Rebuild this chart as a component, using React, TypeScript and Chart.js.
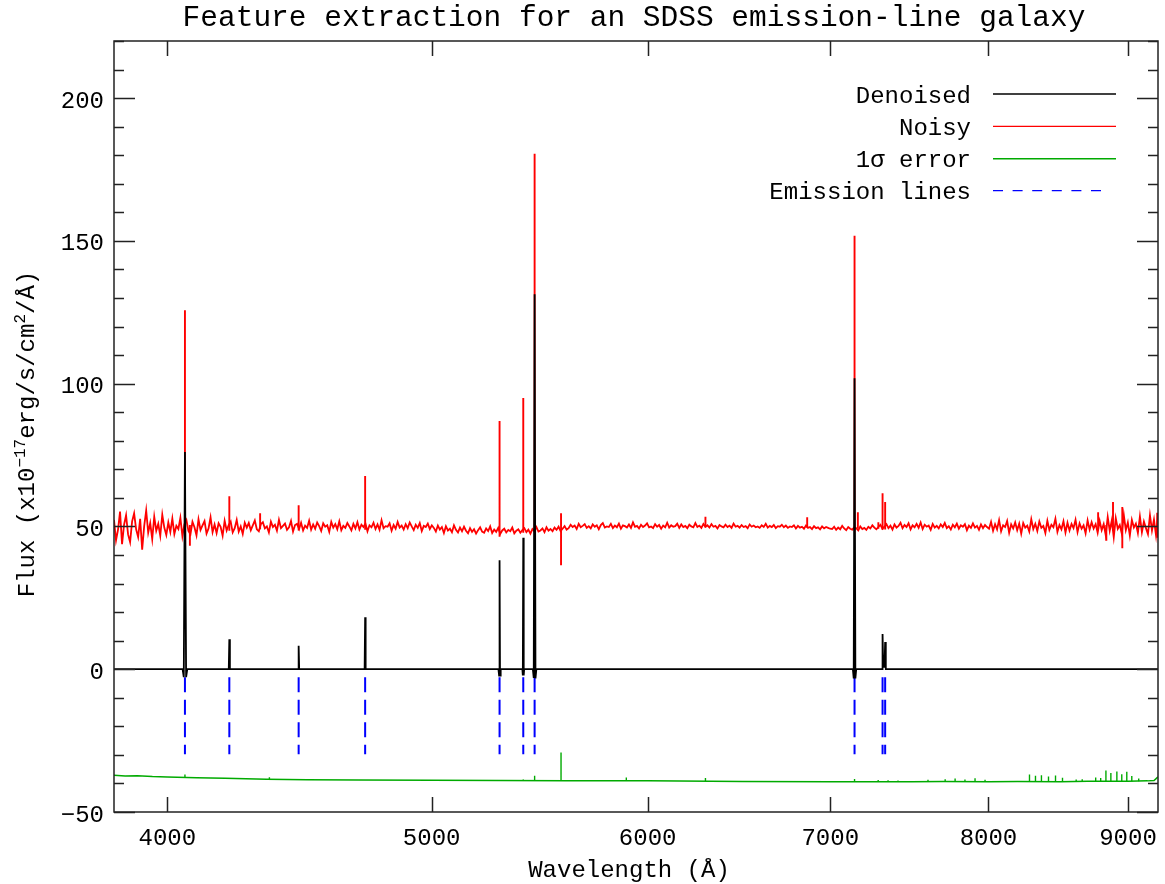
import React, { useEffect, useRef } from 'react';
import { Chart, registerables } from 'chart.js';

Chart.register(...registerables);

// SDSS-style log-linear wavelength grid of the noisy spectrum
const LOGLAM0 = 3.58252;
const DLOGLAM = 0.00073744;

// Noisy flux (offset +50), one value per grid pixel
const noisyFlux = [
  52.3, 45.1, 48.9, 55.2, 43.8, 50.6, 53.9, 47.2, 44.5, 51.8,
  54.6, 49.0, 46.3, 52.7, 41.9, 50.1, 55.6, 47.8, 51.2, 45.6,
  53.4, 48.5, 50.9, 46.7, 54.1, 49.6, 47.0,
  51.4, 48.1, 52.8, 47.3, 50.2, 49.1, 53.0, 46.6, 50.8, 52.2,
  48.4, 47.2, 51.6, 49.7, 46.9, 52.5, 48.8, 50.4, 51.9, 47.5,
  49.3, 53.2, 48.0, 50.7, 47.7, 51.1, 49.9, 46.8, 52.0, 48.6,
  50.5, 51.7, 47.9, 49.4, 52.3, 48.2, 50.0, 47.4, 51.3,
  49.6, 51.2, 48.7, 50.4, 52.1, 49.0, 48.3, 50.8, 51.5, 49.3,
  50.0, 47.9, 51.7, 49.8, 50.6, 48.5, 52.3, 49.4, 50.2, 51.0,
  48.8, 49.7, 51.9, 48.2, 50.5, 50.9, 49.1, 51.3, 48.6, 50.3,
  49.5, 52.0, 48.9, 50.7, 49.2, 51.4, 50.1, 48.4, 51.1, 49.9,
  50.4, 48.1, 51.6, 49.6, 50.8, 49.0, 51.8, 48.7, 50.2, 49.5,
  51.2, 50.0, 48.6, 50.9, 49.3, 51.5, 48.9, 50.6, 49.8, 51.0,
  48.3, 50.4, 49.7, 51.3, 49.1, 50.7, 48.8, 52.2, 49.4, 50.1,
  49.9, 51.1, 48.5, 50.5, 49.2, 51.6, 49.6, 50.3, 48.9, 50.8,
  49.4, 51.4, 50.0, 48.7, 50.6, 49.5, 51.2, 48.4, 50.2, 49.8,
  51.0, 49.1, 50.4,
  49.5, 48.2, 50.3, 48.9, 49.8, 47.7, 50.1, 48.6, 49.2, 48.0,
  50.4, 48.8, 47.9, 49.6, 48.3, 49.9, 48.5, 47.6, 49.4, 48.1,
  49.0, 47.5, 48.7, 49.7, 48.2, 47.8, 49.3, 48.4, 50.0, 47.7,
  48.9, 48.1, 49.5, 47.4, 48.6, 49.2, 47.9, 48.8, 48.3, 49.6,
  47.6, 48.5, 49.0, 47.8, 48.7, 49.4, 48.0, 48.9, 47.5, 49.1,
  48.4, 49.8, 48.2, 48.6, 49.3, 48.0, 49.7, 48.5, 49.1, 48.3,
  49.6, 48.8, 49.9, 48.4, 49.2, 50.1, 48.9,
  49.4, 50.6, 49.8, 50.3, 49.1, 50.9, 49.7, 50.2, 50.8, 49.5,
  50.1, 49.3, 50.7, 49.9, 50.4, 49.0, 50.5, 51.2, 49.6, 50.0,
  49.8, 50.9, 49.4, 50.3, 49.7, 51.0, 49.2, 50.4, 50.1, 49.6,
  50.7, 49.5, 51.4, 49.9, 50.2, 49.3, 50.6, 49.8, 50.3, 51.1,
  49.7, 50.0, 49.4, 50.8, 49.9, 50.5, 49.2, 50.3, 49.7, 51.3,
  49.6, 50.4, 49.9, 50.1, 51.0, 49.5, 50.7, 49.8, 50.2, 49.4,
  50.6, 50.0, 49.7, 51.2, 49.8, 50.3, 49.5, 50.9, 49.9, 50.4,
  49.6, 50.8, 49.9, 50.2, 49.3, 50.5, 50.0, 49.7, 50.6, 49.8,
  50.3, 49.5, 51.0, 49.9, 50.2, 49.6, 50.5, 49.8, 50.1, 49.4,
  50.7, 49.9, 50.3, 49.7, 50.0, 49.5, 50.4, 49.8, 50.9, 49.6,
  50.2, 49.8, 50.5, 49.4, 50.1, 49.9, 50.6, 49.7, 50.3, 49.5,
  50.0, 49.8, 50.4, 49.3, 50.2, 49.6, 49.9, 49.2, 50.3, 49.5,
  49.8, 49.1, 50.1, 49.4, 49.7, 49.0, 50.0, 49.3, 49.8, 49.5,
  49.2,
  49.1, 49.9, 48.8, 49.6, 49.0, 50.2, 49.3, 48.7, 49.8, 49.2,
  48.9, 49.7, 49.4, 48.6, 50.0, 49.1, 49.5, 48.8, 49.9, 49.3,
  50.4, 49.6, 49.0, 49.8, 50.6, 49.2, 49.9, 50.8, 49.4, 50.3,
  48.9, 50.7, 49.6, 50.2, 51.3, 49.4, 50.5, 49.8, 51.1, 49.0,
  50.4, 49.7, 50.9, 49.5, 51.4, 49.1, 50.6, 49.9, 50.3, 48.8,
  50.9, 49.6, 50.2, 49.3, 50.7, 49.8, 51.2, 49.4, 50.1, 48.9,
  50.6, 49.7, 51.0, 49.2, 50.4, 49.9, 50.8, 48.7, 50.3, 49.5,
  51.1, 49.6, 50.2, 48.8, 50.7, 49.4, 50.5, 49.8,
  49.2, 51.6, 48.5, 50.8, 49.0, 52.2, 48.3, 50.4, 49.8, 51.9,
  47.8, 50.7, 49.3, 51.4, 48.7, 51.0, 47.5, 51.2, 49.6, 50.3,
  48.2, 52.5, 49.1, 50.9, 48.4, 51.7, 49.5, 50.2, 47.7, 52.0,
  48.8, 50.6, 49.7, 52.7, 48.1, 50.5, 49.0, 51.8, 47.9, 51.3,
  48.6, 50.9, 49.4, 52.3, 48.0, 51.1, 49.2, 50.4, 47.6, 52.1,
  48.9, 51.5, 49.3, 50.8, 47.8, 51.9, 48.7,
  50.8, 47.0, 53.3, 48.5, 52.0, 46.2, 52.9, 49.2, 50.5, 47.5,
  54.0, 48.7, 51.4, 46.8, 52.3, 49.6, 51.0, 47.7, 53.5, 48.0,
  51.7, 49.4, 47.3, 53.9, 48.6, 52.4, 46.9, 54.2,
];

// Narrow features of the noisy spectrum (wavelength, low end, high end)
const noisySpikeWave = [4060, 4077, 4215, 4326, 4469, 4727, 5295, 5402, 5454, 5577, 6300, 6865, 7145, 7165, 7290, 7316, 7332, 8776, 8837, 8887, 8957, 9225];
const noisySpikeLo = [48.0, 43.2, 48.5, 49.0, 48.6, 48.8, 46.4, 47.8, 47.9, 36.4, 49.6, 49.5, 48.6, 49.3, 49.2, 48.8, 48.9, 49.0, 45.0, 49.2, 42.4, 46.0];
const noisySpikeHi = [125.7, 50.5, 60.6, 54.6, 57.4, 67.7, 86.9, 95.0, 180.5, 54.6, 53.4, 53.2, 151.8, 55.0, 51.5, 61.6, 58.6, 55.0, 50.5, 58.6, 56.8, 54.8];

// Denoised spectrum (offset 0)
const denoisedWave = [3824, 4052, 4056, 4060, 4064, 4068, 4213, 4215, 4217, 4467, 4469, 4471, 4725, 4727, 4729, 5290, 5293, 5295, 5297, 5300, 5398, 5400, 5402, 5404, 5406, 5446, 5450, 5454, 5458, 5462, 7135, 7140, 7145, 7150, 7155, 7313, 7316, 7320, 7328, 7332, 7336, 9231];
const denoisedFlux = [0, 0, -2.8, 76.1, -2.8, 0, 0, 10.5, 0, 0, 8.2, 0, 0, 18.2, 0, 0, -2.2, 38.2, -2.2, 0, 0, -2.2, 46.0, -2.2, 0, 0, -3.0, 131.3, -3.2, 0, 0, -3.2, 101.9, -3.2, 0, 0, 12.3, 0.8, 0.8, 9.5, 0, 0];

// 1-sigma error (offset -50)
const errorWave = [3824, 3860, 3900, 3950, 4000, 4100, 4200, 4350, 4500, 4700, 5000, 5300, 5600, 6000, 6500, 7000, 7500, 7700, 8000, 8200, 8500, 8700, 9000, 9150, 9200, 9231];
const errorFlux = [-37.1, -37.4, -37.3, -37.6, -37.7, -38.0, -38.2, -38.5, -38.7, -38.8, -38.9, -39.0, -39.1, -39.1, -39.3, -39.4, -39.4, -39.3, -39.4, -39.3, -39.4, -39.2, -39.2, -39.1, -39.0, -37.7];
const errorSpikeWave = [4060, 4360, 5402, 5454, 5577, 5893, 6300, 7145, 7289, 7350, 7412, 7602, 7713, 7778, 7843, 7910, 7977, 8282, 8324, 8366, 8416, 8466, 8516, 8615, 8659, 8758, 8795, 8834, 8871, 8916, 8953, 8991, 9029, 9082];
const errorSpikeLo = [-37.9, -38.5, -39.0, -39.0, -39.1, -39.1, -39.2, -39.4, -39.4, -39.4, -39.4, -39.4, -39.4, -39.4, -39.4, -39.4, -39.4, -39.3, -39.3, -39.3, -39.3, -39.3, -39.4, -39.4, -39.3, -39.2, -39.2, -39.2, -39.2, -39.2, -39.2, -39.2, -39.2, -39.2];
const errorSpikeHi = [-36.9, -37.8, -38.6, -37.3, -29.2, -37.9, -38.1, -38.4, -38.8, -38.9, -39.0, -38.7, -38.5, -38.3, -38.6, -38.2, -38.7, -36.9, -37.3, -37.1, -37.6, -37.2, -38.0, -38.6, -38.5, -37.9, -38.1, -35.5, -36.3, -35.8, -36.8, -35.9, -37.4, -38.3];

// Detected emission lines
const emissionWave = [4060, 4215, 4469, 4727, 5295, 5402, 5454, 7145, 7316, 7332];
const markerTop = -2.8;
const markerBottom = -29.8;

// Axes
const xMin = 3824;
const xMax = 9231;
const yMin = -50;
const yMax = 220;
const xTickValues = [4000, 5000, 6000, 7000, 8000, 9000];
const yMajorTicks = [-50, 0, 50, 100, 150, 200];
const yMinorStep = 10;

const TITLE = 'Feature extraction for an SDSS emission-line galaxy';
const X_TITLE = 'Wavelength (Å)';
const legendItems = [
  { label: 'Denoised', color: '#000000', dash: [] as number[], width: 1.3 },
  { label: 'Noisy', color: '#ff0000', dash: [] as number[], width: 1.3 },
  { label: '1σ error', color: '#00aa00', dash: [] as number[], width: 1.6 },
  { label: 'Emission lines', color: '#0000ff', dash: [10, 9.6], width: 1.3 },
];

const FONT = '"Liberation Mono", "DejaVu Sans Mono", monospace';

function segs(wave: number[], lo: number[], hi: number[]) {
  const out: { x: number; y: number | null }[] = [];
  wave.forEach((w, k) => {
    out.push({ x: w, y: lo[k] });
    out.push({ x: w, y: hi[k] });
    out.push({ x: w, y: null });
  });
  return out;
}

const axesPlugin = {
  id: 'idlAxes',
  beforeDraw(chart: any) {
    const ctx = chart.ctx;
    ctx.save();
    ctx.fillStyle = '#ffffff';
    ctx.fillRect(0, 0, chart.width, chart.height);
    ctx.restore();
  },
  afterDraw(chart: any) {
    const ctx: CanvasRenderingContext2D = chart.ctx;
    const { left, right, top, bottom } = chart.chartArea;
    const xs = chart.scales.x;
    const ys = chart.scales.y;
    ctx.save();
    ctx.strokeStyle = '#222222';
    ctx.lineWidth = 1.5;
    ctx.setLineDash([]);
    ctx.strokeRect(left, top, right - left, bottom - top);

    // x ticks (bottom & top, inward)
    ctx.beginPath();
    xTickValues.forEach((v) => {
      const px = Math.round(xs.getPixelForValue(v)) + 0.5;
      ctx.moveTo(px, bottom);
      ctx.lineTo(px, bottom - 15);
      ctx.moveTo(px, top);
      ctx.lineTo(px, top + 15);
    });
    // y ticks (left & right, inward)
    for (let v = yMin; v <= yMax; v += yMinorStep) {
      const major = yMajorTicks.includes(v);
      const len = major ? 21 : 10;
      const py = Math.round(ys.getPixelForValue(v)) + 0.5;
      ctx.moveTo(left, py);
      ctx.lineTo(left + len, py);
      ctx.moveTo(right, py);
      ctx.lineTo(right - len, py);
    }
    ctx.stroke();

    ctx.fillStyle = '#000000';
    // y tick labels
    ctx.font = `24px ${FONT}`;
    ctx.textAlign = 'right';
    ctx.textBaseline = 'alphabetic';
    yMajorTicks.forEach((v) => {
      const py = ys.getPixelForValue(v);
      const txt = v < 0 ? '\u2212' + String(-v) : String(v);
      ctx.fillText(txt, left - 10, py + 9.5);
    });
    // x tick labels
    ctx.textAlign = 'center';
    xTickValues.forEach((v) => {
      const px = xs.getPixelForValue(v);
      ctx.fillText(String(v), px, 845);
    });
    // x title
    ctx.fillText(X_TITLE, 629, 877);
    // title
    ctx.font = `29.5px ${FONT}`;
    ctx.fillText(TITLE, 634, 26);

    // y title with superscripts
    const parts = [
      { t: 'Flux (x10', sup: false },
      { t: '\u221217', sup: true },
      { t: 'erg/s/cm', sup: false },
      { t: '2', sup: true },
      { t: '/Å)', sup: false },
    ];
    const widths = parts.map((p) => {
      ctx.font = p.sup ? `16px ${FONT}` : `24px ${FONT}`;
      return ctx.measureText(p.t).width;
    });
    const total = widths.reduce((a, b) => a + b, 0);
    ctx.save();
    ctx.translate(33.5, 434);
    ctx.rotate(-Math.PI / 2);
    ctx.textAlign = 'left';
    let cx = -total / 2;
    parts.forEach((p, i) => {
      ctx.font = p.sup ? `16px ${FONT}` : `24px ${FONT}`;
      ctx.fillText(p.t, cx, p.sup ? -9 : 0);
      cx += widths[i];
    });
    ctx.restore();

    // legend
    const ly = [94, 126.3, 158.7, 190.7];
    legendItems.forEach((it, i) => {
      ctx.font = `24px ${FONT}`;
      ctx.textAlign = 'right';
      ctx.fillStyle = '#000000';
      ctx.fillText(it.label, 971, ly[i] + 8.5);
      ctx.beginPath();
      ctx.strokeStyle = it.color;
      ctx.lineWidth = it.width;
      ctx.setLineDash(it.dash);
      ctx.moveTo(993, ly[i]);
      ctx.lineTo(it.dash.length ? 1104 : 1116, ly[i]);
      ctx.stroke();
    });
    ctx.restore();
  },
};

export default function App() {
  const ref = useRef<HTMLCanvasElement | null>(null);
  useEffect(() => {
    if (!ref.current) return;
    const noisyPts = noisyFlux.map((y, i) => ({ x: Math.pow(10, LOGLAM0 + i * DLOGLAM), y }));
    const denoisedPts = denoisedWave.map((x, i) => ({ x, y: denoisedFlux[i] }));
    const errorPts = errorWave.map((x, i) => ({ x, y: errorFlux[i] }));
    const markerPts = segs(
      emissionWave,
      emissionWave.map(() => markerTop),
      emissionWave.map(() => markerBottom)
    );
    const chart = new Chart(ref.current, {
      type: 'line',
      data: {
        datasets: [
          { label: 'Denoised', data: denoisedPts, borderColor: '#000000', borderWidth: 1.8, order: 0 },
          { label: 'Emission lines', data: markerPts, borderColor: '#0000ff', borderWidth: 2, borderDash: [15, 7.5], spanGaps: false, order: 1 },
          { label: 'Noisy peaks', data: segs(noisySpikeWave, noisySpikeLo, noisySpikeHi), borderColor: '#ff0000', borderWidth: 1.9, spanGaps: false, order: 2 },
          { label: 'Noisy', data: noisyPts, borderColor: '#ff0000', borderWidth: 1.8, order: 3 },
          { label: '1σ error peaks', data: segs(errorSpikeWave, errorSpikeLo, errorSpikeHi), borderColor: '#00aa00', borderWidth: 1.4, spanGaps: false, order: 4 },
          { label: '1σ error', data: errorPts, borderColor: '#00aa00', borderWidth: 1.5, order: 5 },
        ] as any,
      },
      options: {
        animation: false,
        responsive: false,
        events: [],
        layout: { padding: { left: 114, top: 41, right: 7, bottom: 72 } },
        elements: { point: { radius: 0 }, line: { tension: 0, fill: false } },
        scales: {
          x: { type: 'logarithmic', display: false, min: xMin, max: xMax },
          y: { type: 'linear', display: false, min: yMin, max: yMax },
        },
        plugins: { legend: { display: false }, tooltip: { enabled: false }, title: { display: false } },
      },
      plugins: [axesPlugin],
    });
    return () => chart.destroy();
  }, []);
  return (
    <div style={{ position: 'absolute', left: 0, top: 0, width: 1165, height: 884, background: '#ffffff' }}>
      <canvas ref={ref} width={1165} height={884} style={{ display: 'block', width: 1165, height: 884 }} />
    </div>
  );
}
